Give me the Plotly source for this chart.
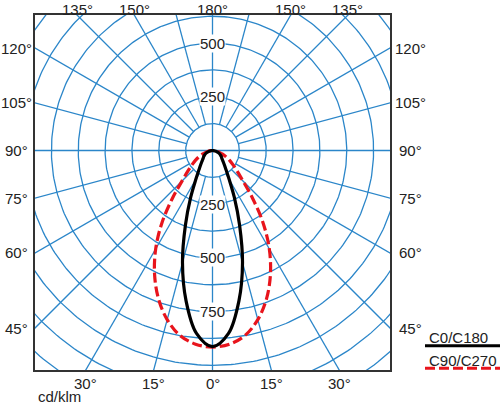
import numpy as np
import plotly.graph_objects as go

# luminous intensity (cd/klm) vs gamma angle, symmetric halves
gamma = [0, 5, 10, 15, 20, 25, 30, 35, 40, 45, 50, 55, 60, 65, 70, 75, 80, 85, 90]
c0_c180 = [913, 855, 710, 540, 368, 240, 155, 110, 85, 68, 57, 50, 43, 36, 28, 20, 12, 5, 0]
c90_c270 = [915, 905, 874, 815, 735, 638, 529, 410, 290, 200, 150, 117, 92, 70, 50, 33, 20, 9, 0]

grid_radii = [125, 250, 375, 500, 625, 750, 875, 1000, 1125, 1250, 1375]
radius_labels_up = [250, 500]
radius_labels_down = [250, 500, 750]
side_angles = [45, 60, 75, 90, 105, 120]
top_angles = [135, 150, 180]
bottom_angles = [0, 15, 30]

BLUE = "#2b86c9"
FONT = "Liberation Sans, Arial, sans-serif"

# axis window (same scale on both axes, centre offset upward)
XR = [-826.4, 826.4]
YR = [-1021.9, 630.8]


def to_xy(ang_deg, r):
    a = np.radians(ang_deg)
    return np.asarray(r) * np.sin(a), -np.asarray(r) * np.cos(a)


def full_curve(vals):
    g = np.array(gamma, dtype=float)
    v = np.array(vals, dtype=float)
    ang = np.concatenate([-g[::-1], g[1:]])
    rr = np.concatenate([v[::-1], v[1:]])
    return to_xy(ang, rr)


fig = go.Figure()

# circles
cx, cy = [], []
t = np.linspace(0, 360, 361)
for r in grid_radii:
    x, y = to_xy(t, r)
    cx += list(x) + [None]
    cy += list(y) + [None]
fig.add_trace(go.Scatter(x=cx, y=cy, mode="lines", line=dict(color=BLUE, width=1.3),
                         hoverinfo="skip", showlegend=False))

# radial lines every 15 deg, starting at the inner circle (axes go through centre)
rx, ry = [], []
for a in range(0, 360, 15):
    r0 = 0 if a % 90 == 0 else grid_radii[0]
    x, y = to_xy([a, a], [r0, 1500])
    rx += list(x) + [None]
    ry += list(y) + [None]
fig.add_trace(go.Scatter(x=rx, y=ry, mode="lines", line=dict(color=BLUE, width=1.3),
                         hoverinfo="skip", showlegend=False))

x, y = full_curve(c90_c270)
fig.add_trace(go.Scatter(x=x, y=y, mode="lines", name="C90/C270", line_shape="spline",
                         line=dict(color="#e8141c", width=3.2, dash="10px,4px"), showlegend=False))
x, y = full_curve(c0_c180)
fig.add_trace(go.Scatter(x=x, y=y, mode="lines", name="C0/C180", line_shape="spline",
                         line=dict(color="#000000", width=3.2), showlegend=False))

ann = []
# intensity labels on the vertical axis
for r in radius_labels_up:
    ann.append(dict(x=0, y=r, xref="x", yref="y", text=str(r), showarrow=False,
                    bgcolor="white", borderpad=0, font=dict(size=15)))
for r in radius_labels_down:
    ann.append(dict(x=0, y=-r, xref="x", yref="y", text=str(r), showarrow=False,
                    bgcolor="white", borderpad=0, font=dict(size=15)))


def xfrac(v):
    return (v - XR[0]) / (XR[1] - XR[0])


def yfrac(v):
    return (v - YR[0]) / (YR[1] - YR[0])


# angle labels where the rays meet the frame
for a in side_angles:
    yv = -XR[1] * np.cos(np.radians(a)) / np.sin(np.radians(a))
    for xp in (1 + 20 / 355, -19 / 355):
        ann.append(dict(x=xp, y=yfrac(yv), xref="paper", yref="paper", text=f"{a}°",
                        showarrow=False, xanchor="center", yanchor="middle"))
for a in top_angles:
    xv = YR[1] * np.tan(np.radians(180 - a))
    for s in ((1,) if a == 180 else (1, -1)):
        ann.append(dict(x=xfrac(s * xv), y=1 + 15 / 355, xref="paper", yref="paper",
                        text=f"{a}°", showarrow=False, xanchor="center", yanchor="top",
                        borderpad=0))
for a in bottom_angles:
    xv = -YR[0] * np.tan(np.radians(a))
    for s in ((1,) if a == 0 else (1, -1)):
        ann.append(dict(x=xfrac(s * xv), y=-13.3 / 355, xref="paper", yref="paper",
                        text=f"{a}°", showarrow=False, xanchor="center", yanchor="middle"))
ann.append(dict(x=2 / 355, y=-36 / 355, xref="paper", yref="paper", text="cd/klm",
                showarrow=False, xanchor="left", yanchor="bottom", borderpad=0))

# legend drawn as underlined labels
ann.append(dict(x=392 / 355, y=33 / 355, xref="paper", yref="paper", text="C0/C180",
                showarrow=False, xanchor="left", yanchor="middle"))
ann.append(dict(x=392 / 355, y=9.3 / 355, xref="paper", yref="paper", text="C90/C270",
                showarrow=False, xanchor="left", yanchor="middle"))
shapes = [
    dict(type="line", xref="paper", yref="paper", x0=390 / 355, x1=465 / 355,
         y0=24.3 / 355, y1=24.3 / 355, line=dict(color="black", width=3)),
    dict(type="line", xref="paper", yref="paper", x0=390 / 355, x1=465 / 355,
         y0=1.7 / 355, y1=1.7 / 355, line=dict(color="#e8141c", width=3, dash="10px,4px")),
]

axis = dict(showgrid=False, zeroline=False, showticklabels=False, ticks="",
            showline=True, mirror=True, linecolor="#333333", linewidth=1.6, fixedrange=True)
fig.update_layout(
    width=500, height=406,
    margin=dict(l=35, r=110, t=15, b=36),
    paper_bgcolor="white", plot_bgcolor="white",
    font=dict(family=FONT, size=15, color="#222222"),
    xaxis=dict(range=XR, **axis),
    yaxis=dict(range=YR, **axis),
    annotations=ann, shapes=shapes,
)

# drop the default page margin so the figure sits at the window corner
fig.write_html("out.html", config={"displayModeBar": False},
               post_script="document.body.style.margin='0';")
